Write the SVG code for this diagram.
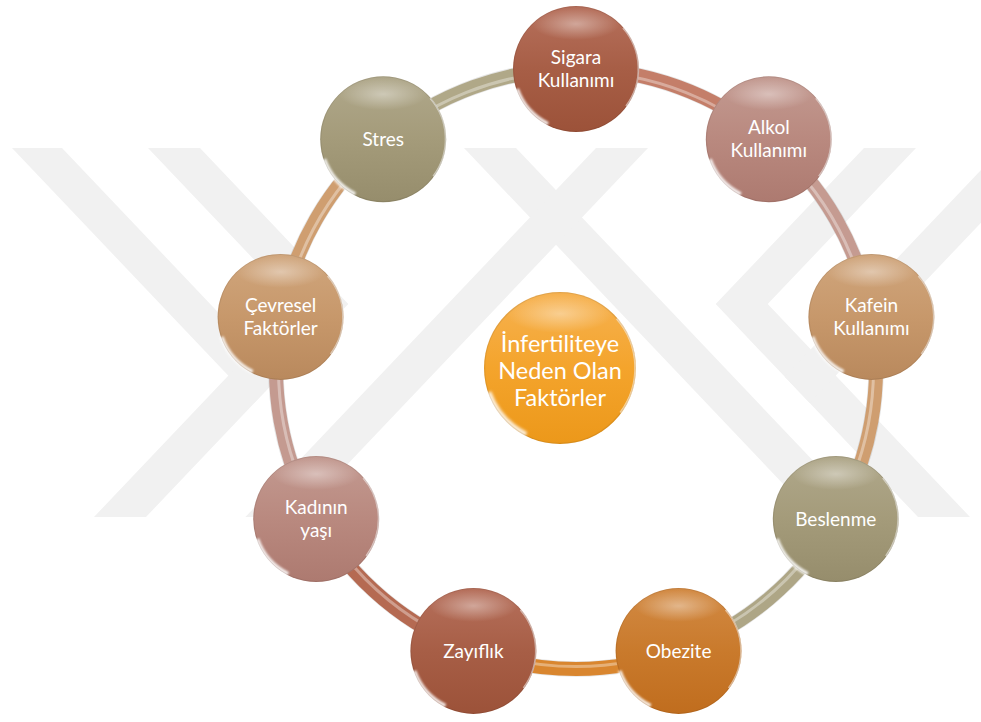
<svg xmlns="http://www.w3.org/2000/svg" xmlns:xlink="http://www.w3.org/1999/xlink" width="981" height="722" viewBox="0 0 981 722">
<style>
.wm{fill:#f1f1f1}
.tube{fill:none;stroke-width:14}
.edge{fill:none;stroke:#000;stroke-opacity:.1;stroke-width:15.5}
.hi{fill:none;stroke:#fff;stroke-opacity:.35;stroke-width:3}
.lbl{font-family:Lato,"Open Sans","Liberation Sans",sans-serif;font-size:19px;fill:#fff;text-anchor:middle}
.big{font-size:23.5px}
</style>
<defs>
<linearGradient id="gCopper" x1="0" y1="0" x2="0" y2="1"><stop offset="0" stop-color="#b6705c"/><stop offset=".5" stop-color="#a75e46"/><stop offset="1" stop-color="#9c5239"/></linearGradient>
<linearGradient id="gPink" x1="0" y1="0" x2="0" y2="1"><stop offset="0" stop-color="#c39a91"/><stop offset=".5" stop-color="#b9897f"/><stop offset="1" stop-color="#ad7a70"/></linearGradient>
<linearGradient id="gTan" x1="0" y1="0" x2="0" y2="1"><stop offset="0" stop-color="#d0a67d"/><stop offset=".5" stop-color="#c7986b"/><stop offset="1" stop-color="#b9895d"/></linearGradient>
<linearGradient id="gOlive" x1="0" y1="0" x2="0" y2="1"><stop offset="0" stop-color="#b0a88b"/><stop offset=".5" stop-color="#a49b7a"/><stop offset="1" stop-color="#968d6c"/></linearGradient>
<linearGradient id="gOrange" x1="0" y1="0" x2="0" y2="1"><stop offset="0" stop-color="#d28a44"/><stop offset=".5" stop-color="#c97a2c"/><stop offset="1" stop-color="#c06d1e"/></linearGradient>
<linearGradient id="gGold" x1="0" y1="0" x2="0" y2="1"><stop offset="0" stop-color="#f6b252"/><stop offset=".5" stop-color="#f4a42c"/><stop offset="1" stop-color="#ec981a"/></linearGradient>
<radialGradient id="hl" cx=".5" cy=".5" r=".5"><stop offset="0" stop-color="#fff" stop-opacity=".4"/><stop offset="1" stop-color="#fff" stop-opacity="0"/></radialGradient>
<filter id="blur" x="-50%" y="-50%" width="200%" height="200%"><feGaussianBlur stdDeviation="1.3"/></filter>
<g id="gloss">
<ellipse cx="0" cy="-45" rx="44" ry="16" fill="url(#hl)"/>
<path d="M-59,20 A63,63 0 0 0 -28,55" fill="none" stroke="#fff" stroke-width="4" opacity=".85" filter="url(#blur)"/>
<path d="M47,-41 A62,62 0 0 1 50,37" fill="none" stroke="#fff" stroke-width="1.6" opacity=".55"/>
<circle r="62.5" fill="none" stroke="#000" stroke-opacity=".08" stroke-width="1"/>
</g>
</defs>
<rect width="981" height="722" fill="#fff"/>
<g id="watermark">
<polygon class="wm" points="12,148 62,148 279.3,376.7 254.3,403"/>
<polygon class="wm" points="148,148 200,148 348.3,304.1 146,517 94,517 296.3,304.1"/>
<polygon class="wm" points="464,148 516,148 866.6,517 814.6,517"/>
<polygon class="wm" points="596,148 648,148 297.4,517 245.4,517"/>
<polygon class="wm" points="916,148 864,148 715.7,304.1 918,517 970,517 767.7,304.1"/>
<polygon class="wm" points="1052,148 1002,148 784.7,376.7 809.7,403"/>
</g>
<g id="connectors">
<circle class="edge" cx="576" cy="369" r="300"/>
<path class="tube" stroke="#c47e69" d="M576,69 A300,300 0 0 1 768.8,139.2"/>
<path class="tube" stroke="#c59b91" d="M768.8,139.2 A300,300 0 0 1 871.4,316.9"/>
<path class="tube" stroke="#cf9e70" d="M871.4,316.9 A300,300 0 0 1 835.8,519"/>
<path class="tube" stroke="#aea686" d="M835.8,519 A300,300 0 0 1 678.6,650.9"/>
<path class="tube" stroke="#d9862f" d="M678.6,650.9 A300,300 0 0 1 473.4,650.9"/>
<path class="tube" stroke="#b56a52" d="M473.4,650.9 A300,300 0 0 1 316.2,519"/>
<path class="tube" stroke="#c49a90" d="M316.2,519 A300,300 0 0 1 280.6,316.9"/>
<path class="tube" stroke="#cf9e70" d="M280.6,316.9 A300,300 0 0 1 383.2,139.2"/>
<path class="tube" stroke="#b0a888" d="M383.2,139.2 A300,300 0 0 1 576,69"/>
<circle class="hi" cx="576" cy="369" r="297.5"/>
</g>
<g id="center" transform="translate(560,368)">
<circle r="76" fill="url(#gGold)"/>
<use href="#gloss" transform="scale(1.206)"/>
<text class="lbl big" y="-16">İnfertiliteye</text>
<text class="lbl big" y="11">Neden Olan</text>
<text class="lbl big" y="38">Faktörler</text>
</g>
<g id="sigara" transform="translate(576,69)">
<circle r="63" fill="url(#gCopper)"/><use href="#gloss"/>
<text class="lbl" y="-5">Sigara</text><text class="lbl" y="18">Kullanımı</text>
</g>
<g id="alkol" transform="translate(768.8,139.2)">
<circle r="63" fill="url(#gPink)"/><use href="#gloss"/>
<text class="lbl" y="-5">Alkol</text><text class="lbl" y="18">Kullanımı</text>
</g>
<g id="kafein" transform="translate(871.4,316.9)">
<circle r="63" fill="url(#gTan)"/><use href="#gloss"/>
<text class="lbl" y="-5">Kafein</text><text class="lbl" y="18">Kullanımı</text>
</g>
<g id="beslenme" transform="translate(835.8,519)">
<circle r="63" fill="url(#gOlive)"/><use href="#gloss"/>
<text class="lbl" y="7">Beslenme</text>
</g>
<g id="obezite" transform="translate(678.6,650.9)">
<circle r="63" fill="url(#gOrange)"/><use href="#gloss"/>
<text class="lbl" y="7">Obezite</text>
</g>
<g id="zayiflik" transform="translate(473.4,650.9)">
<circle r="63" fill="url(#gCopper)"/><use href="#gloss"/>
<text class="lbl" y="7">Zayıflık</text>
</g>
<g id="kadinin" transform="translate(316.2,519)">
<circle r="63" fill="url(#gPink)"/><use href="#gloss"/>
<text class="lbl" y="-5">Kadının</text><text class="lbl" y="18">yaşı</text>
</g>
<g id="cevresel" transform="translate(280.6,316.9)">
<circle r="63" fill="url(#gTan)"/><use href="#gloss"/>
<text class="lbl" y="-5">Çevresel</text><text class="lbl" y="18">Faktörler</text>
</g>
<g id="stres" transform="translate(383.2,139.2)">
<circle r="63" fill="url(#gOlive)"/><use href="#gloss"/>
<text class="lbl" y="7">Stres</text>
</g>
</svg>
